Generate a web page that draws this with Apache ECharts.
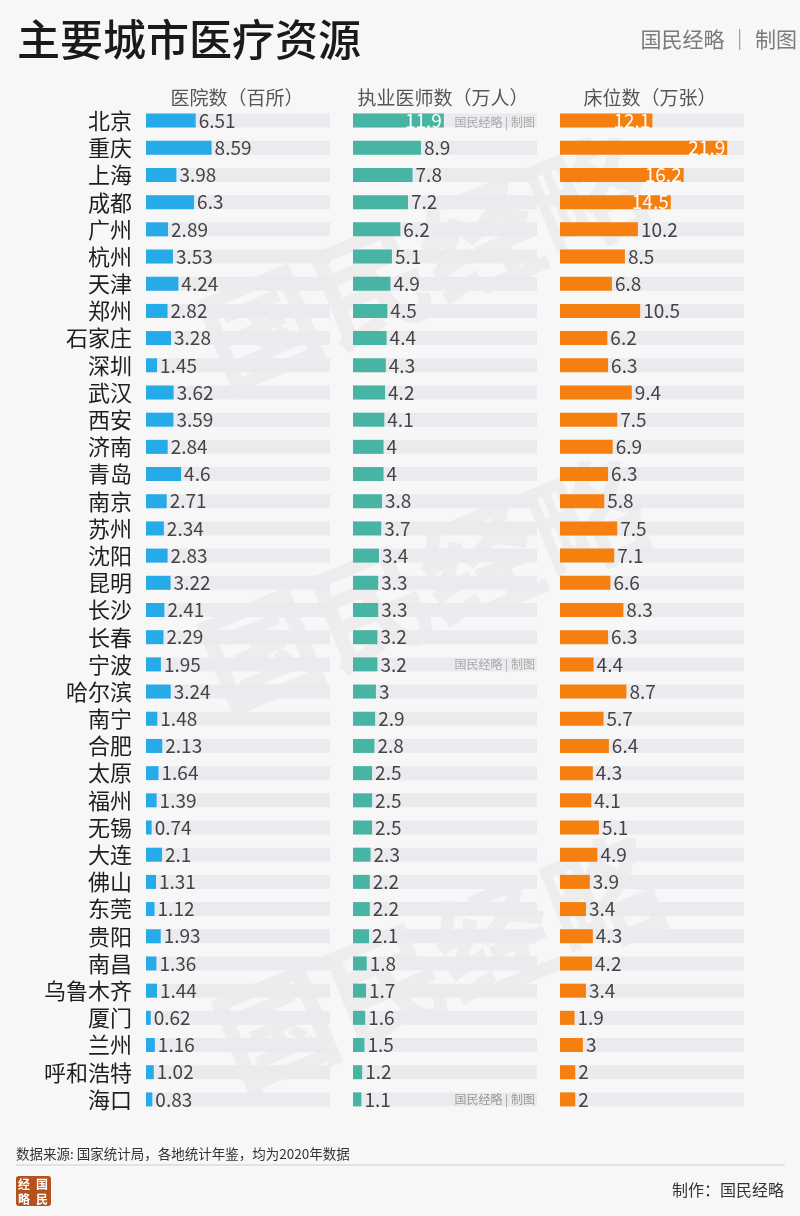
<!DOCTYPE html>
<html>
<head>
<meta charset="utf-8">
<script src="https://cdn.jsdelivr.net/npm/echarts@6/dist/echarts.min.js"></script>
<style>
  html, body { margin: 0; padding: 0; background: #f7f7f7; }
  #chart { width: 800px; height: 1216px; }
</style>
</head>
<body>
<div id="chart"></div>
<script>
const cities = ["北京","重庆","上海","成都","广州","杭州","天津","郑州","石家庄","深圳","武汉","西安","济南","青岛","南京","苏州","沈阳","昆明","长沙","长春","宁波","哈尔滨","南宁","合肥","太原","福州","无锡","大连","佛山","东莞","贵阳","南昌","乌鲁木齐","厦门","兰州","呼和浩特","海口"];
const hospitals = [6.51,8.59,3.98,6.3,2.89,3.53,4.24,2.82,3.28,1.45,3.62,3.59,2.84,4.6,2.71,2.34,2.83,3.22,2.41,2.29,1.95,3.24,1.48,2.13,1.64,1.39,0.74,2.1,1.31,1.12,1.93,1.36,1.44,0.62,1.16,1.02,0.83];
const doctors = [11.9,8.9,7.8,7.2,6.2,5.1,4.9,4.5,4.4,4.3,4.2,4.1,4,4,3.8,3.7,3.4,3.3,3.3,3.2,3.2,3,2.9,2.8,2.5,2.5,2.5,2.3,2.2,2.2,2.1,1.8,1.7,1.6,1.5,1.2,1.1];
const beds = [12.1,21.9,16.2,14.5,10.2,8.5,6.8,10.5,6.2,6.3,9.4,7.5,6.9,6.3,5.8,7.5,7.1,6.6,8.3,6.3,4.4,8.7,5.7,6.4,4.3,4.1,5.1,4.9,3.9,3.4,4.3,4.2,3.4,1.9,3,2,2];
const headers = ["医院数（百所）","执业医师数（万人）","床位数（万张）"];
const title = "主要城市医疗资源";
const source = "数据来源: 国家统计局，各地统计年鉴，均为2020年数据";
const maker = "制作：国民经略";
const brand = "国民经略 │ 制图";

const FONT = '"Noto Sans CJK SC", "Noto Sans", sans-serif';
const colors = ['#27aae8', '#48b4a3', '#f57f0f'];
const lefts = [146, 353, 560];
const GRID_TOP = 107, GRID_H = 1006, GRID_W = 184, XMAX = 24.1;

const chart = echarts.init(document.getElementById('chart'), null, { renderer: 'canvas' });

function items(arr) {
  return arr.map(v => {
    if (v > 11) {
      return { value: v, label: { position: 'insideRight', color: '#ffffff', distance: 2 } };
    }
    return v;
  });
}

const grids = [], xAxes = [], yAxes = [], series = [];
[hospitals, doctors, beds].forEach((arr, k) => {
  grids.push({ left: lefts[k], top: GRID_TOP, width: GRID_W, height: GRID_H, containLabel: false });
  xAxes.push({ type: 'value', gridIndex: k, min: 0, max: XMAX, show: false, splitLine: { show: false } });
  yAxes.push({
    type: 'category', gridIndex: k, data: cities, inverse: true,
    axisLine: { show: false }, axisTick: { show: false }, splitLine: { show: false },
    axisLabel: k === 0 ? { show: true, interval: 0, fontSize: 22, color: '#1e1e1e', margin: 14, fontFamily: FONT } : { show: false }
  });
  series.push({
    type: 'bar', xAxisIndex: k, yAxisIndex: k, data: items(arr),
    barWidth: 14,
    itemStyle: { color: colors[k] },
    showBackground: true,
    backgroundStyle: { color: '#ebebef' },
    label: { show: true, position: 'right', distance: 3, fontSize: 19, color: '#444', fontFamily: FONT },
    silent: true, animation: false
  });
});

const wm = (x, y) => ({ type: 'text', x: x, y: y, rotation: 0.39, z: -1, silent: true,
  style: { text: '国民经略', font: 'bold 118px ' + FONT, fill: 'rgba(0,0,0,0.04)', align: 'center', verticalAlign: 'middle' } });

const graphics = [
  { type: 'text', left: 17, top: 18, style: { text: title, fill: '#1a1a1a', font: '500 43px ' + FONT } },
  { type: 'text', right: 3, top: 29, style: { text: brand, fill: '#7a7a7a', font: '21px ' + FONT } },
  { type: 'text', x: 237, y: 98, style: { text: headers[0], font: '19px ' + FONT, fill: '#555', align: 'center', verticalAlign: 'middle' } },
  { type: 'text', x: 443, y: 98, style: { text: headers[1], font: '19px ' + FONT, fill: '#555', align: 'center', verticalAlign: 'middle' } },
  { type: 'text', x: 650, y: 98, style: { text: headers[2], font: '19px ' + FONT, fill: '#555', align: 'center', verticalAlign: 'middle' } },
  wm(425, 262), wm(425, 585), wm(440, 962),
  { type: 'text', x: 535, y: 122, z: 10, style: { text: '国民经略 | 制图', font: '12px ' + FONT, fill: '#aaa', align: 'right', verticalAlign: 'middle' } },
  { type: 'text', x: 535, y: 664, z: 10, style: { text: '国民经略 | 制图', font: '12px ' + FONT, fill: '#aaa', align: 'right', verticalAlign: 'middle' } },
  { type: 'text', x: 535, y: 1099, z: 10, style: { text: '国民经略 | 制图', font: '12px ' + FONT, fill: '#999', align: 'right', verticalAlign: 'middle' } },
  { type: 'text', x: 16, y: 1154, style: { text: source, font: '13.5px ' + FONT, fill: '#333', verticalAlign: 'middle' } },
  { type: 'line', shape: { x1: 16, y1: 1165, x2: 785, y2: 1165 }, style: { stroke: '#dcdcdc', lineWidth: 1.5 } },
  { type: 'rect', shape: { x: 16, y: 1176, width: 35, height: 30, r: 3 }, style: { fill: '#b4521e' } },
  { type: 'text', x: 24, y: 1184, style: { text: '经', font: 'bold 12px ' + FONT, fill: '#fff', align: 'center', verticalAlign: 'middle' } },
  { type: 'text', x: 42, y: 1184, style: { text: '国', font: 'bold 12px ' + FONT, fill: '#fff', align: 'center', verticalAlign: 'middle' } },
  { type: 'text', x: 24, y: 1199, style: { text: '略', font: 'bold 12px ' + FONT, fill: '#fff', align: 'center', verticalAlign: 'middle' } },
  { type: 'text', x: 42, y: 1199, style: { text: '民', font: 'bold 12px ' + FONT, fill: '#fff', align: 'center', verticalAlign: 'middle' } },
  { type: 'text', x: 784, y: 1190, style: { text: maker, font: '16px ' + FONT, fill: '#333', align: 'right', verticalAlign: 'middle' } }
];

chart.setOption({
  backgroundColor: '#f7f7f7',
  animation: false,
  textStyle: { fontFamily: FONT },
  grid: grids,
  xAxis: xAxes,
  yAxis: yAxes,
  series: series,
  graphic: graphics
});
</script>
</body>
</html>
